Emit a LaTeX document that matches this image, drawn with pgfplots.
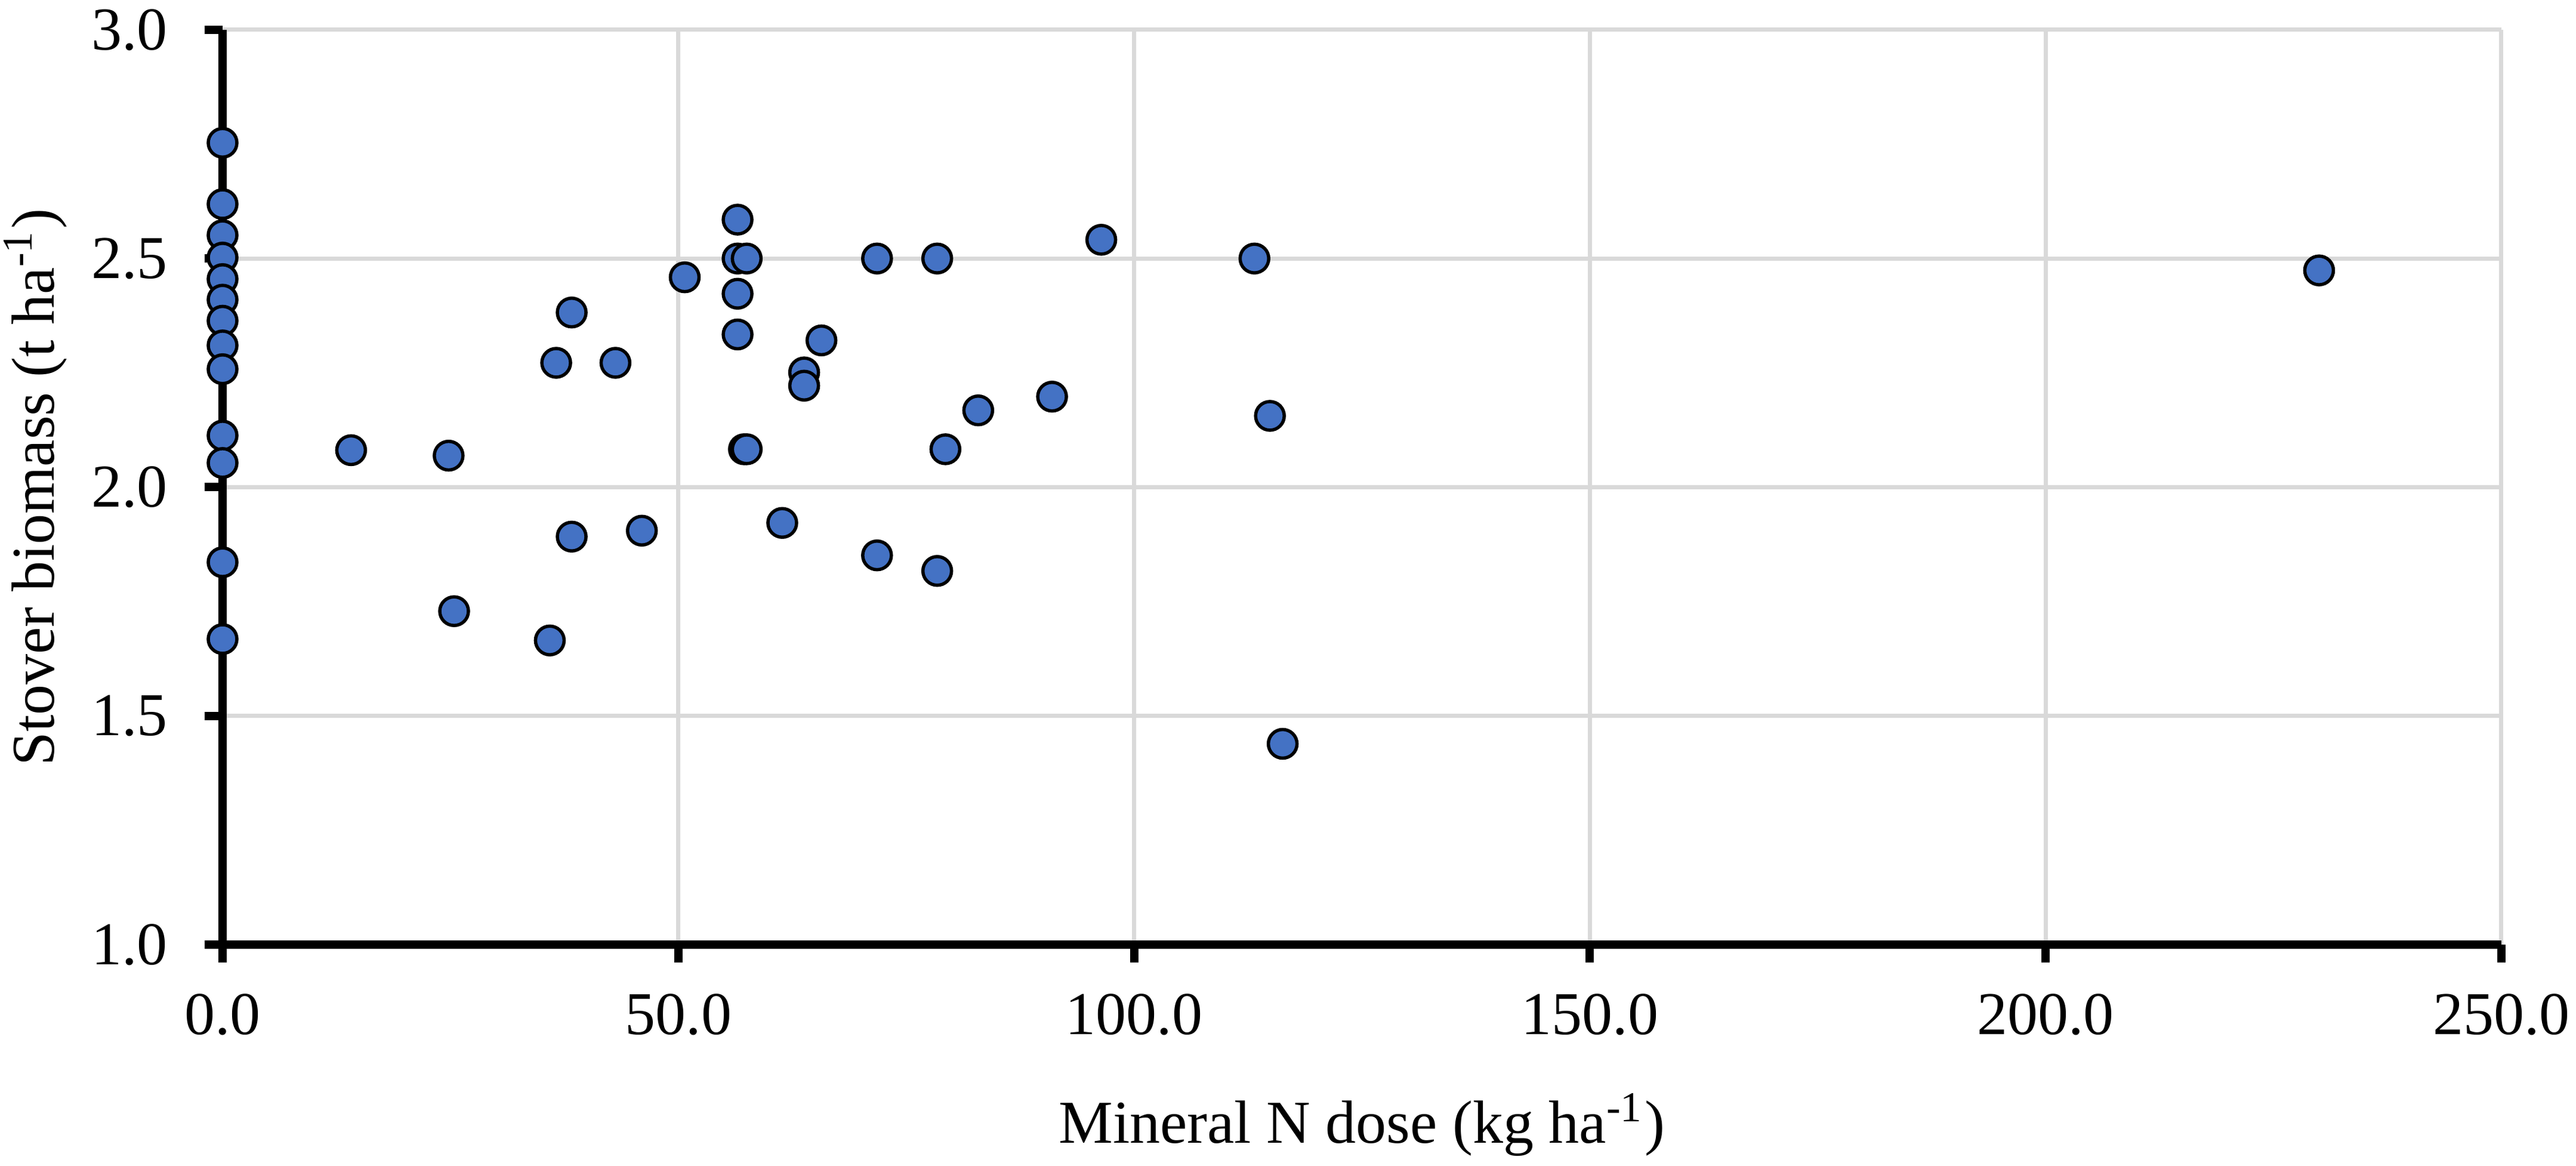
\documentclass[border=0pt]{standalone}
\usepackage{fontspec}
\setmainfont{Liberation Serif}
\usepackage{pgfplots}
\pgfplotsset{compat=1.18}
\definecolor{mblue}{HTML}{4472C4}
\definecolor{gridc}{HTML}{D9D9D9}
\begin{document}
\fontsize{10.2}{12}\selectfont
\begin{tikzpicture}
\path[use as bounding box] (0,0) rectangle (431.7pt,195.4pt);
\begin{axis}[
  at={(37.3pt,37.1pt)}, anchor=south west,
  width=381.9pt, height=153.3pt, scale only axis,
  xmin=0, xmax=250, ymin=1, ymax=3,
  xtick={0,50,100,150,200,250},
  ytick={1,1.5,2,2.5,3},
  axis lines*=left,
  axis line style={-, line width=1.4pt, black},
  every outer x axis line/.append style={-, line width=1.4pt},
  every outer y axis line/.append style={-, line width=1.4pt},
  tick align=outside,
  major tick length=3pt,
  tick style={black, line width=1.4pt},
  grid=major,
  major grid style={gridc, line width=0.7pt},
  xticklabel={\pgfmathprintnumber[fixed,fixed zerofill,precision=1,assume math mode=true]{\tick}},
  yticklabel={\pgfmathprintnumber[fixed,fixed zerofill,precision=1,assume math mode=true]{\tick}},
  xticklabel style={anchor=north, inner sep=0pt, yshift=-5.1pt},
  yticklabel style={anchor=east, inner sep=0pt, xshift=-6pt},
  xlabel={Mineral N dose (kg ha\textsuperscript{-1})},
  ylabel={Stover biomass (t ha\textsuperscript{-1})},
  xlabel style={at={(axis description cs:0.5,-0.2172)}, anchor=base, inner sep=0pt},
  ylabel style={at={(axis description cs:-0.0741,0.5)}, anchor=base, inner sep=0pt},
  clip=false,
]
\addplot[only marks, mark=*, mark size=2.4pt,
  mark options={fill=mblue, draw=black, line width=0.55pt}]
  coordinates {
  (0,2.753) (0,2.619) (0,2.551) (0,2.502) (0,2.455) (0,2.410) (0,2.364)
  (0,2.310) (0,2.258) (0,2.113) (0,2.053) (0,1.836) (0,1.668)
  (14.1,2.081) (24.8,2.069) (25.4,1.729) (35.9,1.665) (36.6,2.272)
  (38.3,2.382) (38.3,1.892) (43.1,2.272) (46.0,1.905) (50.7,2.459)
  (56.5,2.585) (56.5,2.500) (57.5,2.500) (56.5,2.423) (56.5,2.334)
  (57.2,2.083) (57.5,2.083) (61.4,1.922) (63.8,2.251) (63.8,2.222)
  (65.7,2.321) (71.8,2.500) (71.8,1.851) (78.4,2.500) (78.4,1.817)
  (79.3,2.083) (82.9,2.168) (91.0,2.198) (96.4,2.541) (113.2,2.500)
  (114.9,2.156) (116.3,1.439) (230.0,2.474)
  };
\end{axis}
\end{tikzpicture}
\end{document}
